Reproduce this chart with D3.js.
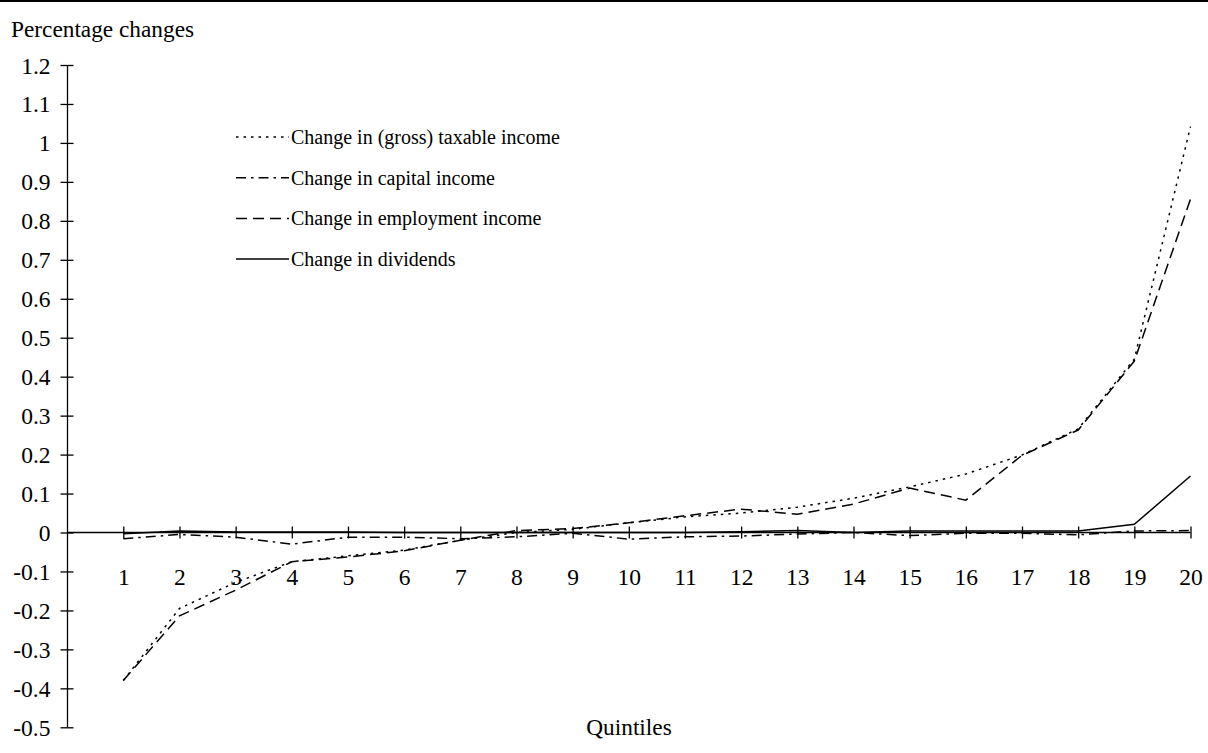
<!DOCTYPE html>
<html>
<head>
<meta charset="utf-8">
<script src="https://cdn.jsdelivr.net/npm/d3@7"></script>
<style>
  html, body { margin: 0; padding: 0; background: #fff; }
  svg text { font-family: "Liberation Serif", "Times New Roman", serif; fill: #000; }
</style>
</head>
<body>
<svg id="chart" width="1208" height="753"></svg>
<script>
const categories = [1,2,3,4,5,6,7,8,9,10,11,12,13,14,15,16,17,18,19,20];
const taxable    = [-0.38,-0.195,-0.128,-0.075,-0.06,-0.045,-0.02,0.0,0.008,0.025,0.04,0.05,0.065,0.088,0.117,0.15,0.199,0.266,0.445,1.042];
const capital    = [-0.016,-0.005,-0.012,-0.03,-0.012,-0.012,-0.016,-0.011,-0.002,-0.017,-0.011,-0.009,-0.004,0.0,-0.008,-0.002,-0.002,-0.006,0.004,0.005];
const employment = [-0.38,-0.214,-0.148,-0.075,-0.063,-0.047,-0.02,0.005,0.01,0.025,0.043,0.06,0.047,0.073,0.114,0.083,0.198,0.263,0.44,0.856];
const dividends  = [-0.003,0.004,0.001,0.001,0.001,0.0,0.0,0.0,0.0,0.0,0.0,0.002,0.005,0.0,0.004,0.004,0.004,0.004,0.021,0.145];
const yTicks = [1.2,1.1,1,0.9,0.8,0.7,0.6,0.5,0.4,0.3,0.2,0.1,0,-0.1,-0.2,-0.3,-0.4,-0.5];
const seriesNames = ["Change in (gross) taxable income","Change in capital income","Change in employment income","Change in dividends"];

const series = [
  {name: seriesNames[0], values: taxable,    dash: "2.5,5"},
  {name: seriesNames[1], values: capital,    dash: "10,5,2.5,5"},
  {name: seriesNames[2], values: employment, dash: "11,6"},
  {name: seriesNames[3], values: dividends,  dash: null}
];

const svg = d3.select("#chart");

// top rule
svg.append("rect").attr("x",0).attr("y",0).attr("width",1208).attr("height",2).attr("fill","#000");

const x = d3.scaleLinear().domain([1,20]).range([123.3,1190.5]);
const y = d3.scaleLinear().domain([-0.5,1.2]).range([727.3,65]);
const axisX = 67.5;

// y axis
const yAxis = d3.axisLeft(y).tickValues(yTicks).tickSize(0).tickFormat(d => String(+d.toFixed(1)));
const gy = svg.append("g").attr("transform",`translate(${axisX},0)`).call(yAxis);
gy.select(".domain").remove();
gy.selectAll(".tick text").attr("x",-17).attr("dy","0.34em").style("font-size","23.5px").style("font-family","Liberation Serif");
gy.append("line").attr("x1",0).attr("x2",0).attr("y1",y(1.2)).attr("y2",y(-0.5)).attr("stroke","#000").attr("stroke-width",1.3);
gy.selectAll(".tick").append("line").attr("x1",-7).attr("x2",6).attr("y1",0).attr("y2",0).attr("stroke","#000").attr("stroke-width",1.3);

// x axis on zero line
const xAxis = d3.axisBottom(x).tickValues(categories).tickSize(0).tickFormat(d => String(d));
const gx = svg.append("g").attr("transform",`translate(0,${y(0)})`).call(xAxis);
gx.select(".domain").remove();
gx.selectAll(".tick text").attr("y",52).attr("dy",0).style("font-size","23.5px").style("font-family","Liberation Serif");
gx.append("line").attr("x1",axisX).attr("x2",x(20)).attr("y1",0).attr("y2",0).attr("stroke","#000").attr("stroke-width",1.3);
gx.selectAll(".tick").append("line").attr("x1",0).attr("x2",0).attr("y1",-6).attr("y2",6).attr("stroke","#000").attr("stroke-width",1.3);

// lines
const line = d3.line().x((d,i) => x(categories[i])).y(d => y(d));
series.forEach(s => {
  svg.append("path").datum(s.values)
    .attr("d", line)
    .attr("fill","none")
    .attr("stroke","#000")
    .attr("stroke-width",1.5)
    .attr("stroke-dasharray", s.dash);
});

// legend
const legend = svg.append("g");
series.forEach((s,i) => {
  const ly = 137 + i*40.7;
  legend.append("line").attr("x1",236).attr("x2",289).attr("y1",ly).attr("y2",ly)
    .attr("stroke","#000").attr("stroke-width",1.5).attr("stroke-dasharray", s.dash);
  legend.append("text").attr("x",291).attr("y",ly+7).style("font-size","20px").text(s.name);
});

// axis titles
svg.append("text").attr("x",11).attr("y",37).style("font-size","23.3px").text("Percentage changes");
svg.append("text").attr("x",629).attr("y",735).attr("text-anchor","middle").style("font-size","23.3px").text("Quintiles");
</script>
</body>
</html>
